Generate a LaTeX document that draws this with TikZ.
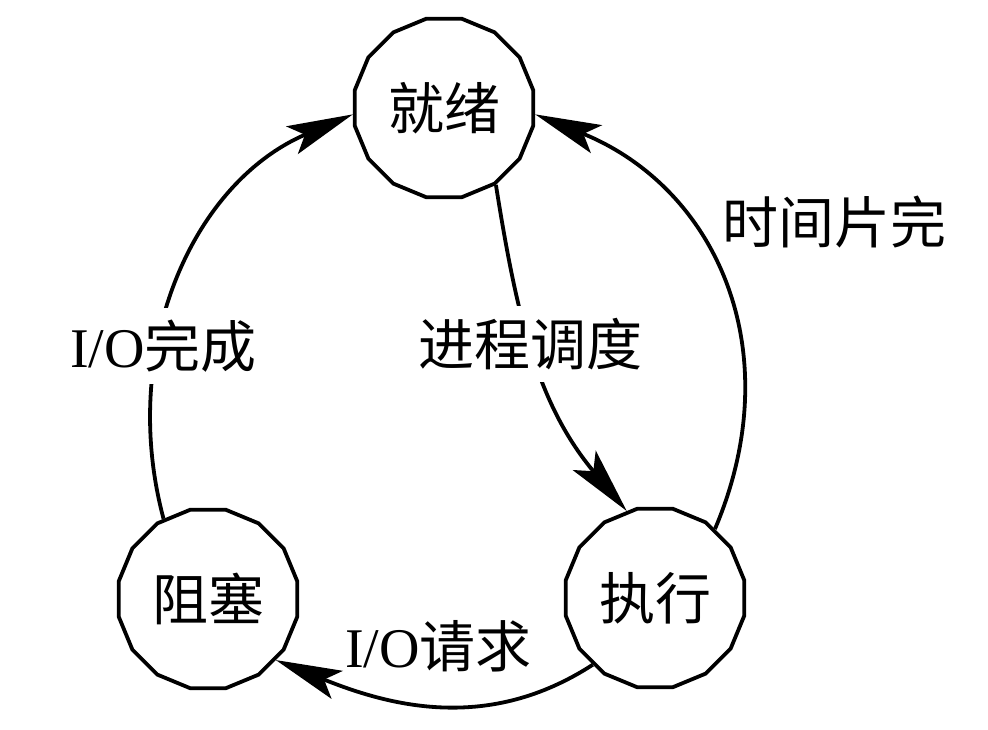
\documentclass[tikz,border=0pt]{standalone}
\usepackage{fontspec}
\setmainfont{Liberation Serif}
\newfontfamily\cjk{Noto Sans CJK SC}
\usetikzlibrary{shapes.geometric,arrows.meta}
\tikzset{
  st_state/.style = {regular polygon, regular polygon sides=16, draw=black, line width=3.8pt, minimum size=182pt, inner sep=0pt, font=\fontsize{56}{60}\selectfont\cjk},
  st_lbl/.style = {font=\fontsize{56}{60}\selectfont, inner sep=12pt},
  st_arr/.style = {line width=3.8pt, >={Stealth[length=66pt,width=30pt,inset=14pt]}, ->}
}

\begin{document}
\begin{tikzpicture}[x=1pt,y=1pt]
\useasboundingbox (0,0) rectangle (988,730);
\node [st_state] (ready) at (444,622) {就绪};
\node [st_state] (block) at (208,131) {阻塞};
\node [st_state] (run) at (655,132) {执行};
\draw [st_arr] (ready.-56) to[out=-81,in=130] node[st_lbl, fill=white, pos=.45] (sched) {\cjk 进程调度} (run.108);
\draw [st_arr] (run.49) to[out=67,in=-22,looseness=1.1] (ready.-4);
\node [st_lbl] (slice) at (834,508) {\cjk 时间片完};
\draw [st_arr] (run.227) to[out=213,in=-22] node[st_lbl, pos=.5, yshift=59pt] (ioreq) {I/O{\cjk 请求}} (block.-42);
\draw [st_arr] (block.119) to[out=105,in=203] node[st_lbl, fill=white, pos=.35, xshift=5pt] (iodone) {I/O{\cjk 完成}} (ready.184);
\end{tikzpicture}
\end{document}
